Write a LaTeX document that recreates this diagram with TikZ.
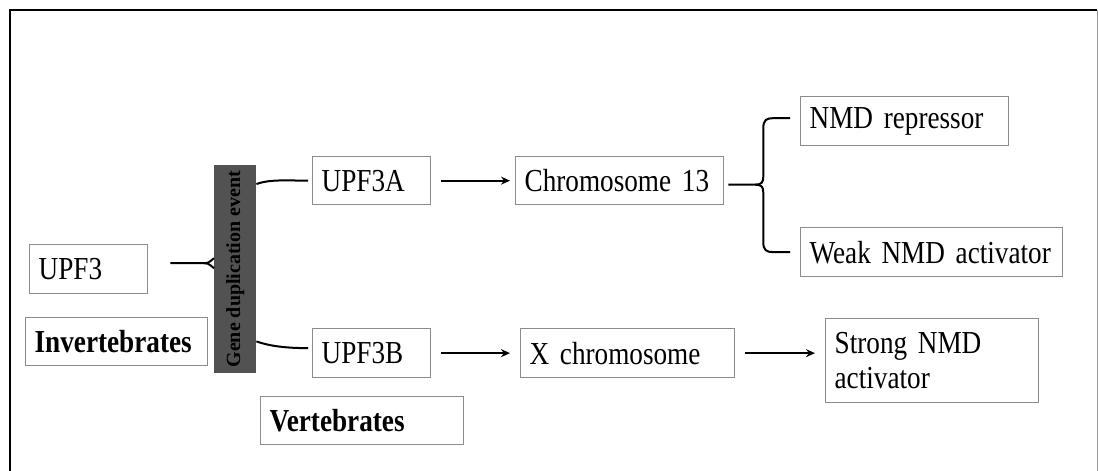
\documentclass[tikz,border=0pt]{standalone}
\usepackage{fontspec}
\setmainfont[FakeStretch=0.85]{Liberation Serif}
\newfontfamily\barfont{Liberation Serif}
\newcommand\boxfont{\fontsize{32}{35}\selectfont\spaceskip=6pt plus 2pt minus 1pt\relax}
\usetikzlibrary{arrows.meta,calc}

\begin{document}
\begin{tikzpicture}[x=1pt,y=-1pt,
  gbox/.style={draw=black!45, line width=1.3pt, anchor=north west,
    inner xsep=9pt, inner ysep=0pt, align=left, font=\boxfont},
  lnk/.style={line width=2pt},
  arr/.style={lnk, -{Stealth[length=9pt,width=8pt]}}]

\useasboundingbox (0,0) rectangle (1098,471);

% frame
\draw[line width=2pt] (10,471) -- (10,10) -- (1097,10);
\draw[black!40, line width=1pt] (1097,10) -- (1097,471);

% boxes
\node[gbox, text width=100pt, minimum height=49pt] (upf) at (29,244) {UPF3};
\node[gbox, text width=164pt, minimum height=48pt] (inv) at (25,317) {\bfseries Invertebrates};
\node[gbox, text width=100pt, minimum height=48pt] (upfa) at (312,156) {UPF3A};
\node[gbox, text width=100pt, minimum height=49pt] (upfb) at (312,328) {UPF3B};
\node[gbox, text width=185pt, minimum height=48pt] (vert) at (260,396) {\bfseries Vertebrates};
\node[gbox, text width=190pt, minimum height=48pt] (chra) at (515,156) {Chromosome 13};
\node[gbox, text width=196pt, minimum height=49pt] (chrx) at (520,328) {X chromosome};
\node[gbox, text width=190pt, minimum height=49pt] (rep) at (800,96) {NMD repressor};
\node[gbox, text width=244pt, minimum height=49pt] (weak) at (800,227) {Weak NMD activator};
\node[gbox, text width=195pt, minimum height=84pt] (strong) at (825,318) {Strong NMD\\activator};

% duplication bar
\node[fill=black!68, anchor=north west, minimum width=42pt, minimum height=208pt,
  inner sep=0pt] (bar) at (214,165) {};
\node[rotate=90, font=\barfont\bfseries\fontsize{20}{24}\selectfont] (bartxt)
  at (bar.center) {Gene duplication event};

% UPF3 into the bar
\coordinate (tip) at ($(bar.west)+(0,-6)$);
\draw[lnk] ($(upf.east |- tip)+(22,0)$) -- ($(tip)+(-10,0)$)
  .. controls ($(tip)+(-3,0)$) and ($(tip)+(-3,-4)$) .. ($(tip)+(0,-5)$);
\draw[lnk] ($(tip)+(-10,0)$)
  .. controls ($(tip)+(-3,0)$) and ($(tip)+(-3,4)$) .. ($(tip)+(0,5)$);

% bar to the two paralogues
\draw[lnk] ($(bar.north east)+(0,19)$) .. controls +(14,-5) and +(-20,0) .. ($(upfa.west)+(-4,0)$);
\draw[lnk] ($(bar.south east)+(0,-32)$) .. controls +(14,5) and +(-20,0) .. ($(upfb.west)+(-4,-5)$);

% arrows
\draw[arr, shorten <=10pt, shorten >=5pt] (upfa) -- (chra);
\draw[arr, shorten <=10pt, shorten >=10pt] (upfb) -- (chrx);
\draw[arr, shorten <=10pt, shorten >=10pt] (chrx.east) -- (chrx.east -| strong.west);

% brace
\coordinate (bk) at ($(chra.east)+(39,4)$);
\coordinate (ra) at ($(rep.west)+(-10,-3)$);
\coordinate (wa) at ($(weak.west)+(-10,0)$);
\draw[lnk] ($(chra.east)+(4,4)$) -- ($(bk)+(-8,0)$)
  .. controls ($(bk)+(-2,0)$) and ($(bk)+(0,-2)$) .. ($(bk)+(0,-8)$)
  -- ($(bk |- ra)+(0,10)$)
  .. controls ($(bk |- ra)+(0,2)$) and ($(bk |- ra)+(3,0)$) .. ($(bk |- ra)+(10,0)$) -- (ra);
\draw[lnk] ($(bk)+(-8,0)$)
  .. controls ($(bk)+(-2,0)$) and ($(bk)+(0,2)$) .. ($(bk)+(0,8)$)
  -- ($(bk |- wa)+(0,-10)$)
  .. controls ($(bk |- wa)+(0,-2)$) and ($(bk |- wa)+(3,0)$) .. ($(bk |- wa)+(10,0)$) -- (wa);

\end{tikzpicture}
\end{document}
